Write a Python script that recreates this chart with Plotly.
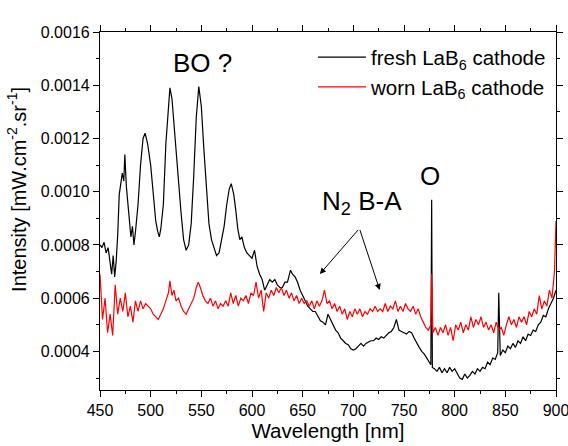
import plotly.graph_objects as go

# ---- data (intensity values in units of 1e-4 mW.cm^-2.sr^-1) ----
fresh_wl = [450, 452, 454, 456, 458, 460, 461.5, 463, 464.5, 466, 467.5, 469, 470.5, 472, 473.5, 474.5,
            476, 477.5, 479, 480.5, 482, 483.5, 485, 487.5, 490, 492.5, 494.5, 497, 500, 502.5, 505,
            507, 508.5, 510, 512.5, 515, 517.5, 519, 521, 523, 525, 527.5, 530, 532.5, 535, 537.5,
            540, 542.5, 545, 547.5, 550, 552.5, 555, 557.5, 560, 562.5, 565, 567.5, 570, 572.5, 575,
            577.5, 579.5, 582, 584, 586, 588, 590, 592.5, 595, 597.5, 600, 602.5, 605, 607.5, 610,
            612.5, 615, 617.5, 620, 622.5, 625, 627.5, 630, 632.5, 635, 638, 640, 642.5, 645, 647.5,
            650, 652.5, 655, 657.5, 660, 662.5, 665, 667.5, 670, 672.5, 675, 677.5, 680, 682.5, 685,
            687.5, 690, 692.5, 695, 697.5, 700, 702.5, 705, 707.5, 710, 712.5, 715, 717.5, 720, 722.5,
            725, 727.5, 730, 732.5, 735, 737.5, 740, 742.5, 745, 747.5, 750, 752.5, 755, 757.5, 760,
            762.5, 765, 767.5, 770, 772.5, 775, 776.5, 777.3, 778, 780, 782.5, 785, 787.5, 790, 792.5,
            795, 797.5, 800, 802.5, 805, 807.5, 810, 812.5, 815, 817.5, 820, 822.5, 825, 827.5, 830,
            832.5, 835, 837.5, 840, 842.5, 843.5, 845, 847.5, 850, 852.5, 855, 857.5, 860, 862.5, 865,
            867.5, 870, 872.5, 875, 877.5, 880, 882.5, 885, 887.5, 890, 892.5, 895, 897.5, 900]
fresh_val = [8.0, 7.9, 8.1, 7.7, 7.9, 7.2, 6.9, 7.6, 6.8, 7.4, 8.4, 9.9, 10.3, 10.7, 10.4, 11.4,
             10.2, 9.6, 8.9, 8.3, 8.7, 8.0, 8.5, 9.5, 11.0, 12.0, 12.2, 11.8, 11.0, 9.8, 8.9,
             8.5, 8.3, 8.6, 9.5, 11.8, 13.4, 13.9, 13.5, 12.5, 11.6, 10.3, 9.2, 8.2, 7.8, 8.0,
             8.8, 10.6, 12.8, 13.95, 13.2, 11.6, 10.0, 8.8, 8.2, 7.9, 7.6, 7.7, 8.2, 8.7, 9.5,
             10.1, 10.3, 9.9, 9.3, 8.6, 8.2, 8.3, 7.9, 7.7, 7.6, 7.5, 7.8, 7.2, 6.9, 6.7,
             6.3, 6.5, 6.7, 6.6, 6.7, 6.5, 6.4, 6.4, 6.6, 6.6, 7.05, 6.9, 6.8, 6.6, 6.3,
             6.1, 5.9, 5.7, 5.6, 5.5, 5.5, 5.3, 5.15, 5.1, 5.0, 5.4, 5.2, 4.95, 4.8, 4.7,
             4.5, 4.4, 4.3, 4.25, 4.1, 4.05, 4.1, 4.2, 4.3, 4.2, 4.3, 4.35, 4.4, 4.4, 4.5,
             4.45, 4.55, 4.5, 4.6, 4.7, 4.75, 4.9, 5.2, 4.8, 4.75, 4.7, 4.65, 4.75, 4.7, 4.5,
             4.3, 4.15, 4.0, 3.9, 3.75, 3.6, 3.5, 9.7, 3.4, 3.35, 3.25, 3.4, 3.2, 3.35, 3.2,
             3.4, 3.25, 3.35, 3.2, 3.0, 2.95, 3.15, 3.0, 3.1, 3.25, 3.15, 3.35, 3.25, 3.4, 3.35,
             3.6, 3.5, 3.75, 3.7, 3.95, 6.2, 3.85, 4.05, 3.95, 4.2, 4.1, 4.3, 4.15, 4.4, 4.3,
             4.55, 4.4, 4.65, 4.6, 4.8, 4.75, 5.0, 5.1, 5.35, 5.3, 5.6, 5.8, 6.0, 6.3]

worn_wl = [450, 452.5, 455, 457.5, 460, 462.5, 465, 467.5, 470, 472.5, 475, 477.5, 480, 482.5, 485,
           487.5, 490, 492.5, 495, 497.5, 500, 502.5, 505, 507.5, 510, 512.5, 515, 517.5, 519, 521,
           523, 525, 527.5, 530, 532.5, 535, 537.5, 540, 542.5, 545, 547, 549, 551.5, 554, 556.5,
           559, 561.5, 564, 566.5, 569, 571.5, 574, 576.5, 579, 581.5, 584, 586.5, 589, 591.5, 594,
           596.5, 599, 601.5, 604, 606.5, 609, 611.5, 614, 616.5, 619, 621.5, 624, 626.5, 629, 631.5,
           634, 636.5, 639, 641.5, 644, 646.5, 649, 651.5, 654, 656.5, 659, 661.5, 664, 666.5, 669,
           671.5, 674, 676.5, 679, 681.5, 684, 686.5, 689, 691.5, 694, 696.5, 699, 701.5, 704, 706.5,
           709, 711.5, 714, 716.5, 719, 721.5, 724, 726.5, 729, 731.5, 734, 736.5, 739, 741.5, 744,
           746.5, 749, 751.5, 754, 756.5, 759, 761.5, 764, 766.5, 769, 771.5, 774, 776.5, 777.3, 778.5,
           781, 783.5, 786, 788.5, 791, 793.5, 796, 798.5, 801, 803.5, 806, 808.5, 811, 813.5, 816,
           818.5, 821, 823.5, 826, 828.5, 831, 833.5, 836, 838.5, 841, 843.5, 846, 848.5, 851, 853.5,
           856, 858.5, 861, 863.5, 866, 868.5, 871, 873.5, 876, 878.5, 881, 883.5, 886, 888.5, 891,
           893.5, 896, 898.5, 900]
worn_val = [6.9, 5.2, 6.0, 4.7, 5.4, 4.6, 6.5, 5.4, 6.0, 5.5, 6.2, 5.3, 5.7, 5.1, 5.9,
            5.5, 5.9, 5.6, 5.8, 5.7, 5.6, 5.4, 5.3, 5.2, 5.4, 5.6, 5.9, 6.2, 6.65, 6.1,
            6.3, 5.9, 6.0, 5.7, 5.5, 5.4, 5.6, 5.8, 6.0, 6.4, 6.6, 6.4, 6.1, 5.9, 5.8,
            6.0, 5.7, 5.9, 5.6, 5.8, 5.7, 5.9, 5.7, 6.2, 5.8, 6.1, 5.7, 6.0, 5.9, 6.1,
            5.8, 6.2, 6.1, 6.6, 6.0, 6.3, 5.5, 6.2, 6.0, 6.3, 6.1, 6.4, 6.2, 6.4, 6.1,
            6.3, 6.0, 6.2, 5.9, 6.1, 5.8, 6.0, 5.8, 5.9, 5.7, 5.9, 5.6, 5.9, 5.7, 5.9,
            6.3, 5.8, 5.9, 5.6, 5.8, 5.5, 5.7, 5.4, 5.6, 5.2, 5.5, 5.3, 5.6, 5.4, 5.6,
            5.3, 5.5, 5.4, 5.6, 5.5, 5.7, 5.5, 5.6, 5.5, 5.8, 5.5, 5.7, 5.6, 5.9, 5.5,
            5.7, 5.5, 5.8, 5.6, 5.5, 5.7, 5.4, 5.6, 5.3, 5.1, 4.9, 4.8, 5.0, 6.9, 4.7,
            4.9, 4.6, 4.9, 4.7, 5.0, 4.6, 4.9, 4.4, 5.0, 4.8, 5.1, 4.7, 5.0, 4.8, 5.3,
            4.9, 5.2, 5.0, 5.3, 4.9, 5.1, 4.8, 5.0, 4.7, 5.1, 4.8, 4.9, 4.6, 5.0, 5.3,
            5.0, 5.2, 4.9, 5.3, 5.1, 5.3, 5.0, 5.5, 5.3, 5.6, 5.4, 6.1, 5.6, 5.9, 5.7,
            6.3, 6.0, 7.0, 8.9]

SCALE = 1e-4
fresh_int = [v * SCALE for v in fresh_val]
worn_int = [v * SCALE for v in worn_val]

x_ticks = [450, 500, 550, 600, 650, 700, 750, 800, 850, 900]
y_ticks = [0.0004, 0.0006, 0.0008, 0.0010, 0.0012, 0.0014, 0.0016]
y_tick_text = ["0.0004", "0.0006", "0.0008", "0.0010", "0.0012", "0.0014", "0.0016"]

FONT = "Liberation Sans, Arial, sans-serif"

fig = go.Figure()
fig.add_trace(go.Scatter(x=fresh_wl, y=fresh_int, mode="lines",
                         name="fresh LaB<sub>6</sub> cathode",
                         line=dict(color="black", width=1.2)))
fig.add_trace(go.Scatter(x=worn_wl, y=worn_int, mode="lines",
                         name="worn LaB<sub>6</sub> cathode",
                         line=dict(color="#ff0000", width=1.2)))

axis_common = dict(showline=True, linecolor="black", linewidth=1.2, mirror="ticks",
                   ticks="outside", ticklen=6, tickwidth=1.2, tickcolor="black",
                   showgrid=False, zeroline=False, automargin=False,
                   ticklabeloverflow="allow",
                   tickfont=dict(family=FONT, size=16, color="black"))

fig.update_xaxes(range=[450, 900], tickvals=x_ticks,
                 minor=dict(dtick=25, tick0=450, ticks="outside", ticklen=3, tickcolor="black"),
                 title=dict(text="Wavelength [nm]", font=dict(family=FONT, size=20.5, color="black"),
                            standoff=5),
                 **axis_common)
fig.update_yaxes(range=[0.000255, 0.0016], tickvals=y_ticks, ticktext=y_tick_text,
                 minor=dict(dtick=0.0001, tick0=0, ticks="outside", ticklen=3, tickcolor="black"),
                 **axis_common)

# y-axis title (placed as rotated text to match the reference position)
fig.add_annotation(x=-0.182, y=0.559, xref="paper", yref="paper", textangle=-90,
                   text="Intensity [mW.cm<sup>-2</sup>.sr<sup>-1</sup>]", showarrow=False,
                   font=dict(family=FONT, size=20, color="black"), xanchor="center", yanchor="middle")

ann_font = dict(family=FONT, size=26, color="black")
fig.add_annotation(x=551, y=0.001484, xref="x", yref="y", text="BO ?", showarrow=False, font=ann_font)
fig.add_annotation(x=709, y=0.000958, xref="x", yref="y", text="N<sub>2</sub> B-A", showarrow=False, font=ann_font)
fig.add_annotation(x=776, y=0.001058, xref="x", yref="y", text="O", showarrow=False, font=ann_font)
for hx, hy in [(667, 0.000691), (726, 0.000631)]:
    fig.add_annotation(x=hx, y=hy, xref="x", yref="y", ax=706, ay=0.000862,
                       axref="x", ayref="y", showarrow=True, arrowhead=2, arrowsize=1.2,
                       arrowwidth=1, arrowcolor="black", text="")

fig.update_layout(
    width=568, height=446,
    margin=dict(l=100, r=12, t=32, b=56),
    paper_bgcolor="white", plot_bgcolor="white",
    font=dict(family=FONT, color="black"),
    legend=dict(x=0.467, y=0.985, xanchor="left", yanchor="top",
                bgcolor="rgba(0,0,0,0)", font=dict(family=FONT, size=20.5, color="black"),
                itemwidth=48, tracegroupgap=0),
    showlegend=True,
)

fig.write_html("out.html")
